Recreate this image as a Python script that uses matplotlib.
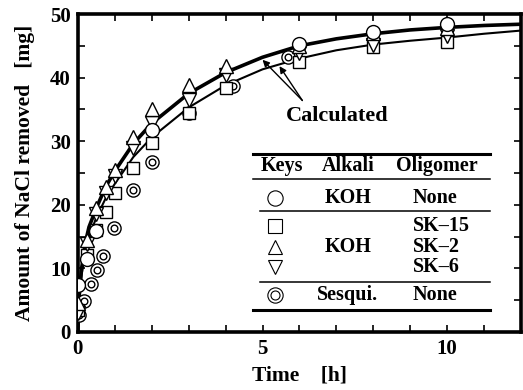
import numpy as np
import matplotlib
matplotlib.use("Agg")
import matplotlib.pyplot as plt
from matplotlib.lines import Line2D

plt.rcParams['font.family'] = ['Liberation Serif', 'DejaVu Serif']
plt.rcParams['font.weight'] = 'bold'

# calculated curves (upper = thick, lower = thin)
t_curve = [0, 0.02, 0.05, 0.1, 0.2, 0.3, 0.5, 0.75, 1, 1.5, 2, 3, 4, 5, 6, 7, 8, 9, 10, 11, 12]
calc_upper = [0, 4, 7, 10, 14, 16.5, 19.5, 22.8, 25.3, 29.6, 32.8, 37.5, 40.8, 43.2, 45.0,
              46.1, 46.9, 47.5, 47.9, 48.2, 48.4]
calc_lower = [0, 3.5, 6, 9, 12.5, 15, 18, 21, 23.3, 27.5, 30.6, 35.3, 38.8, 41.3, 43.0,
              44.3, 45.2, 45.8, 46.3, 46.9, 47.4]

# measured points
t_koh = [0, 0.25, 0.5, 2, 6, 8, 10]
koh_none = [7.3, 11.5, 15.8, 31.8, 45.3, 47.2, 48.4]

t_sk = [0, 0.25, 0.5, 0.75, 1, 1.5, 2, 3, 4, 6, 8, 10]
sk15 = [3.5, 12.1, 16.0, 18.8, 21.8, 25.8, 29.7, 34.4, 38.4, 42.5, 44.8, 45.6]
sk2 = [4.5, 14.5, 19.5, 22.8, 25.5, 30.6, 35.0, 38.8, 41.8, 45.0, 47.0, 47.8]
sk6 = [3.0, 13.8, 18.5, 21.8, 24.5, 28.9, 32.9, 36.5, 40.4, 43.9, 45.1, 46.6]

t_sesq = [0.03, 0.16, 0.35, 0.51, 0.68, 0.97, 1.5, 2, 3, 4.2, 5.7]
sesqui = [2.6, 4.8, 7.6, 9.7, 12.0, 16.3, 22.3, 26.7, 34.4, 38.7, 43.2]

fig = plt.figure(figsize=(5.23, 3.9), dpi=100)
ax = fig.add_axes([0.149, 0.149, 0.847, 0.815])

ax.plot(t_curve, calc_upper, color='black', lw=2.6, zorder=2)
ax.plot(t_curve, calc_lower, color='black', lw=1.5, zorder=2)

mk = dict(linestyle='none', markerfacecolor='white', markeredgecolor='black',
          markeredgewidth=1.0, zorder=3)
ax.plot(t_sesq, sesqui, marker='o', markersize=9.5, **mk)
ax.plot(t_sesq, sesqui, marker='o', markersize=4.8, **mk)
ax.plot(t_sk, sk15, marker='s', markersize=9, **mk)
ax.plot(t_sk, sk6, marker='v', markersize=10, **mk)
ax.plot(t_sk, sk2, marker='^', markersize=10, **mk)
ax.plot(t_koh, koh_none, marker='o', markersize=10, **mk)

ax.set_xlim(0, 12)
ax.set_ylim(0, 50)
ax.set_xticks([0, 5, 10])
ax.set_xticks(np.arange(0, 13, 1), minor=True)
ax.set_yticks([0, 10, 20, 30, 40, 50])
ax.set_yticks(np.arange(0, 51, 5), minor=True)
ax.tick_params(which='both', direction='in', top=True, right=True, width=1.2, length=5,
               labelsize=15, pad=5)
for s in ax.spines.values():
    s.set_linewidth(2.6)

ax.set_xlabel('Time    [h]', fontsize=15.5, fontweight='bold', labelpad=5)
ax.set_ylabel('Amount of NaCl removed   [mg]', fontsize=15.5, fontweight='bold', labelpad=11)

# "Calculated" label with arrows
ax.text(7.03, 34.0, 'Calculated', ha='center', va='center', fontsize=16, fontweight='bold')
arrow = dict(arrowstyle='-|>', color='black', lw=1.0, mutation_scale=10, shrinkA=0, shrinkB=0)
ax.annotate('', xy=(5.0, 42.8), xytext=(6.08, 36.4), arrowprops=arrow)
ax.annotate('', xy=(5.46, 41.8), xytext=(6.08, 36.4), arrowprops=arrow)

# key table
tr = ax.transAxes
def hline(y, x0, x1, lw):
    ax.add_line(Line2D([x0, x1], [y, y], transform=tr, color='black', lw=lw, zorder=4))

hline(0.560, 0.395, 0.930, 2.2)
hline(0.481, 0.395, 0.930, 1.1)
hline(0.380, 0.411, 0.930, 1.1)
hline(0.157, 0.411, 0.930, 1.1)
hline(0.069, 0.395, 0.930, 2.2)

fs = 14.5
ax.text(0.460, 0.522, 'Keys', transform=tr, ha='center', va='center', fontsize=fs)
ax.text(0.609, 0.522, 'Alkali', transform=tr, ha='center', va='center', fontsize=fs)
ax.text(0.810, 0.522, 'Oligomer', transform=tr, ha='center', va='center', fontsize=fs)

ax.text(0.609, 0.421, 'KOH', transform=tr, ha='center', va='center', fontsize=fs)
ax.text(0.756, 0.421, 'None', transform=tr, ha='left', va='center', fontsize=fs)
ax.text(0.609, 0.267, 'KOH', transform=tr, ha='center', va='center', fontsize=fs)
ax.text(0.756, 0.333, 'SK–15', transform=tr, ha='left', va='center', fontsize=fs)
ax.text(0.756, 0.267, 'SK–2', transform=tr, ha='left', va='center', fontsize=fs)
ax.text(0.756, 0.204, 'SK–6', transform=tr, ha='left', va='center', fontsize=fs)
ax.text(0.609, 0.116, 'Sesqui.', transform=tr, ha='center', va='center', fontsize=fs)
ax.text(0.756, 0.116, 'None', transform=tr, ha='left', va='center', fontsize=fs)

kmk = dict(linestyle='none', markerfacecolor='white', markeredgecolor='black',
           markeredgewidth=0.8, transform=tr, zorder=4)
ax.plot([0.445], [0.421], marker='o', markersize=11, **kmk)
ax.plot([0.445], [0.333], marker='s', markersize=10, **kmk)
ax.plot([0.445], [0.267], marker='^', markersize=10.5, **kmk)
ax.plot([0.445], [0.204], marker='v', markersize=10.5, **kmk)
ax.plot([0.445], [0.116], marker='o', markersize=11, **kmk)
ax.plot([0.445], [0.116], marker='o', markersize=6.5, **kmk)

fig.savefig('out.png', dpi=100)
